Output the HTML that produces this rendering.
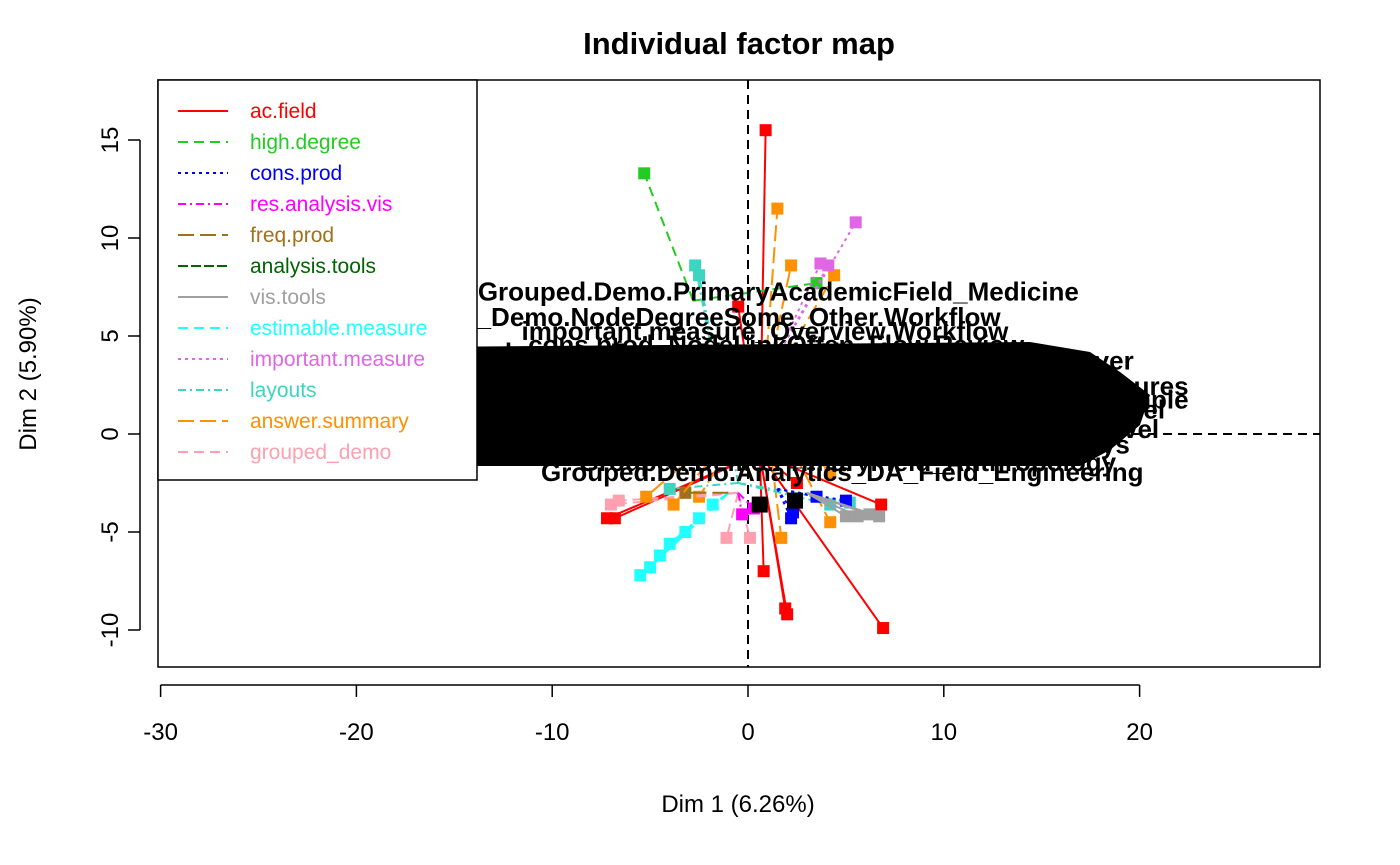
<!DOCTYPE html>
<html><head><meta charset="utf-8"><style>
body{margin:0;background:#fff;}
svg{display:block;font-family:"Liberation Sans",Arial,sans-serif;}
</style></head><body>
<svg id="chart" width="1400" height="865">
<text x="739" y="54" text-anchor="middle" font-size="31" font-weight="bold">Individual factor map</text>
<g id="plot"></g>
<rect x="158" y="80" width="1162" height="587" fill="none" stroke="#000" stroke-width="1.5"/>
<g id="axes"></g>
<text x="738" y="812" text-anchor="middle" font-size="24">Dim 1 (6.26%)</text>
<text transform="translate(36,374) rotate(-90)" text-anchor="middle" font-size="24">Dim 2 (5.90%)</text>
<g id="legend"></g>
</svg>
<script>
const xTicks=[-30,-20,-10,0,10,20];
const yTicks=[-10,-5,0,5,10,15];
const seriesNames=["ac.field","high.degree","cons.prod","res.analysis.vis","freq.prod","analysis.tools","vis.tools","estimable.measure","important.measure","layouts","answer.summary","grouped_demo"];
const seriesColors=["#ff0000","#22cc22","#0000ff","#ff00ff","#a0711c","#006400","#a0a0a0","#22ffff","#e066e6","#3cd6c0","#ff9000","#ffa0b0"];
const seriesDash=["","10,6","3,4","8,4,2,4","16,6","10,3","","10,6","3,4","8,4,2,4","16,6","10,6"];
const centers=[[0.6,-1],[-2.8,6.8],[1.5,-2.8],[-0.5,-3],[-1,-3],[0.5,2],[3,-3],[-1,-3],[1.5,4],[-0.5,-2.5],[0.8,2],[-0.5,-3]];
const ptSeries=[0,0,0,0,0,0,0,0,0,0,1,1,10,10,10,10,10,10,10,8,8,8,9,9,9,9,9,7,7,7,7,7,7,7,2,2,2,2,6,6,6,6,11,11,11,11,3,3,4,10,10];
const ptX=[0.9,6.9,2.0,1.9,0.8,6.8,-7.2,-6.8,-0.5,2.5,-5.3,3.5,1.5,2.2,4.2,1.7,4.2,4.4,-2.5,5.5,3.7,4.1,-2.7,-2.5,4.2,5.2,-4.0,-5.5,-5.0,-4.5,-4.0,-3.2,-2.5,-1.8,2.2,5.0,2.3,3.5,5.0,6.2,6.7,5.6,-1.1,0.1,-7.0,-6.6,-0.3,0.3,-3.2,-5.2,-3.8];
const ptY=[15.5,-9.9,-9.2,-8.9,-7.0,-3.6,-4.3,-4.3,6.5,-2.5,13.3,7.7,11.5,8.6,-2.0,-5.3,-4.5,8.1,-3.2,10.8,8.7,8.6,8.6,8.1,-3.6,-3.5,-2.8,-7.2,-6.8,-6.2,-5.6,-5.0,-4.3,-3.6,-4.3,-3.4,-4.0,-3.2,-4.2,-4.1,-4.2,-4.2,-5.3,-5.3,-3.6,-3.4,-4.1,-3.8,-3.0,-3.2,-3.6];
const blackX=[0.6,2.4];
const blackY=[-3.6,-3.4];
const labelText=["Grouped.Demo.PrimaryAcademicField_Medicine","ALT_Demo.NodeDegreeSome_Other.Workflow","important.measure_Overview.Workflow","cons.prod_NodeLinkOften_Flow.Review","res.analysis.vis_Freq.Occasional.never","important.measure_Experience.Evidence","analysis.tools_Resources.Measures","vis.tools_Freq.Occasionally_Sample","layouts.Hierarchical_Grid.Parallel","ac.field_ParallelAcademic.Level","answer.summary_Always.Sometimes.always","res.analysis_SometimesOccasional","Grouped.Demo.Analytics_DA_Field_Engineering","estimable.measure_Density_Clustering_Size","freq.prod_Monthly_Weekly_Daily_Never_Often","layouts_Force_Directed_Circular_Matrix_Arc","Grouped.Demo.PrimaryField_Anthropology"];
const labelX=[16.9,12.9,13.3,14.1,19.7,18.5,22.5,22.5,21.3,21.0,19.5,17.0,20.2,17.5,18.0,16.0,18.8];
const labelY=[6.8,5.5,4.8,4.1,3.3,2.8,2.0,1.3,0.8,-0.2,-1.0,-1.6,-2.4,1.8,0.3,3.7,-1.9];

const X=v=>748+v*19.58, Y=v=>434-v*19.6;
const NS="http://www.w3.org/2000/svg";
function mk(t,a,p){const e=document.createElementNS(NS,t);for(const k in a)e.setAttribute(k,a[k]);p.appendChild(e);return e;}
const plot=document.getElementById('plot'),axes=document.getElementById('axes'),leg=document.getElementById('legend');
let e=mk('line',{x1:X(0),x2:X(0),y1:80,y2:667,stroke:'#000','stroke-width':2,'stroke-dasharray':'9,6'},plot);


e=mk('line',{x1:158,x2:1320,y1:Y(0),y2:Y(0),stroke:'#000','stroke-width':2,'stroke-dasharray':'9,6'},plot);


ptSeries.forEach((s,i)=>{
  const c=centers[s];
  const l=mk('line',{x1:X(c[0]),y1:Y(c[1]),x2:X(ptX[i]),y2:Y(ptY[i]),stroke:seriesColors[s],'stroke-width':2,'stroke-dasharray':seriesDash[s]},plot);
  
  
  const r=mk('rect',{x:X(ptX[i])-6,y:Y(ptY[i])-6,width:12,height:12,fill:seriesColors[s]},plot);
  
  
});
blackX.forEach((v,i)=>{
  const r=mk('rect',{x:X(v)-8,y:Y(blackY[i])-8,width:16,height:16,fill:'#000'},plot);
  
  
});
const blob=mk('path',{d:'M300 348 L1030 342 L1090 352 L1120 372 L1150 395 L1140 425 L1110 450 L1080 466 L300 466 Z',fill:'#000'},plot);


labelText.forEach((t,i)=>{
  const tx=mk('text',{x:X(labelX[i]),y:Y(labelY[i]),'text-anchor':'end','font-size':26,'font-weight':'bold',fill:'#000'},plot);
  tx.textContent=t;
  
  
});
mk('line',{x1:X(-30),x2:X(20),y1:685,y2:685,stroke:'#000','stroke-width':1.5},axes);
xTicks.forEach(v=>{
  mk('line',{x1:X(v),x2:X(v),y1:685,y2:697,stroke:'#000','stroke-width':1.5},axes);
  const t=mk('text',{x:X(v),y:740,'text-anchor':'middle','font-size':24},axes);
  t.textContent=v;
  
  
});
mk('line',{x1:140,x2:140,y1:Y(15),y2:Y(-10),stroke:'#000','stroke-width':1.5},axes);
yTicks.forEach(v=>{
  mk('line',{x1:128,x2:140,y1:Y(v),y2:Y(v),stroke:'#000','stroke-width':1.5},axes);
  const t=mk('text',{x:0,y:0,'text-anchor':'middle','font-size':24,transform:`translate(118,${Y(v)}) rotate(-90)`},axes);
  t.textContent=v;
  
  
});
mk('rect',{x:158,y:80,width:319,height:400,fill:'#fff',stroke:'#000','stroke-width':1.5},leg);
seriesNames.forEach((n,i)=>{
  const y=111+i*31;
  mk('line',{x1:178,x2:228,y1:y,y2:y,stroke:seriesColors[i],'stroke-width':2,'stroke-dasharray':seriesDash[i]},leg);
  const t=mk('text',{x:250,y:y+7,'font-size':21,fill:seriesColors[i]},leg);
  t.textContent=n;
  
  
});
</script>
</body></html>
